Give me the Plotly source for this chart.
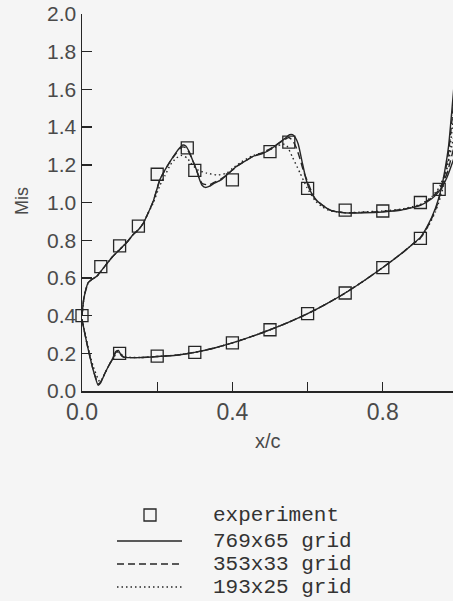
import plotly.graph_objects as go

# ---------------- data ----------------
# experiment, suction (upper) surface
exp_up_x = [0.0, 0.05, 0.10, 0.15, 0.20, 0.28, 0.30, 0.40, 0.50, 0.55, 0.60, 0.70, 0.80, 0.90, 0.95]
exp_up_y = [0.40, 0.66, 0.77, 0.875, 1.15, 1.29, 1.17, 1.12, 1.27, 1.32, 1.075, 0.96, 0.955, 1.00, 1.07]
# experiment, pressure (lower) surface
exp_lo_x = [0.10, 0.20, 0.30, 0.40, 0.50, 0.60, 0.70, 0.80, 0.90]
exp_lo_y = [0.20, 0.185, 0.205, 0.255, 0.325, 0.41, 0.52, 0.655, 0.81]

# 769x65 grid, upper surface
g769_up_x = [0.0, 0.004, 0.008, 0.016, 0.025, 0.04, 0.06, 0.08, 0.10, 0.12, 0.136, 0.15, 0.163,
             0.175, 0.19, 0.207, 0.22, 0.235, 0.25, 0.26, 0.268, 0.276, 0.285, 0.295, 0.305,
             0.313, 0.32, 0.328, 0.338, 0.35, 0.37, 0.39, 0.41, 0.43, 0.455, 0.48, 0.50, 0.52,
             0.54, 0.552, 0.56, 0.567, 0.575, 0.585, 0.595, 0.605, 0.62, 0.64, 0.66, 0.68, 0.70,
             0.75, 0.80, 0.85, 0.90, 0.93, 0.95, 0.97, 0.99]
g769_up_y = [0.40, 0.48, 0.52, 0.573, 0.59, 0.61, 0.66, 0.71, 0.75, 0.79, 0.83, 0.855, 0.89,
             0.94, 1.01, 1.12, 1.17, 1.22, 1.265, 1.29, 1.305, 1.30, 1.27, 1.22, 1.17,
             1.12, 1.09, 1.08, 1.085, 1.10, 1.12, 1.155, 1.19, 1.215, 1.245, 1.26, 1.28, 1.31,
             1.34, 1.36, 1.36, 1.345, 1.31, 1.22, 1.13, 1.07, 1.02, 0.985, 0.96, 0.95, 0.945,
             0.945, 0.95, 0.96, 0.985, 1.02, 1.06, 1.13, 1.24]
# 769x65 grid, lower surface
g769_lo_x = [0.0, 0.01, 0.02, 0.03, 0.043, 0.05, 0.06, 0.07, 0.08, 0.09, 0.097, 0.104, 0.11,
             0.13, 0.16, 0.20, 0.25, 0.30, 0.35, 0.40, 0.45, 0.50, 0.55, 0.60, 0.65, 0.70,
             0.75, 0.80, 0.85, 0.88, 0.90, 0.92, 0.94, 0.955, 0.965, 0.975, 0.985, 0.995]
g769_lo_y = [0.38, 0.28, 0.19, 0.11, 0.03, 0.045, 0.09, 0.13, 0.165, 0.21, 0.215, 0.19, 0.18,
             0.177, 0.178, 0.183, 0.19, 0.205, 0.227, 0.255, 0.288, 0.325, 0.365, 0.41, 0.462, 0.52,
             0.585, 0.655, 0.73, 0.78, 0.815, 0.88, 0.97, 1.07, 1.17, 1.30, 1.52, 1.75]

# 353x33 grid, upper surface
g353_up_x = [0.0, 0.004, 0.008, 0.016, 0.025, 0.04, 0.06, 0.08, 0.10, 0.12, 0.136, 0.15, 0.163,
             0.175, 0.19, 0.207, 0.22, 0.235, 0.25, 0.26, 0.268, 0.276, 0.285, 0.295, 0.305,
             0.313, 0.32, 0.33, 0.34, 0.35, 0.37, 0.39, 0.41, 0.43, 0.455, 0.48, 0.50, 0.52,
             0.54, 0.55, 0.56, 0.57, 0.58, 0.59, 0.598, 0.61, 0.62, 0.64, 0.66, 0.68, 0.70,
             0.75, 0.80, 0.85, 0.90, 0.93, 0.95, 0.97, 0.99]
g353_up_y = [0.40, 0.48, 0.52, 0.573, 0.59, 0.61, 0.66, 0.71, 0.75, 0.79, 0.83, 0.855, 0.89,
             0.94, 1.01, 1.12, 1.17, 1.22, 1.26, 1.285, 1.295, 1.29, 1.265, 1.22, 1.17,
             1.125, 1.10, 1.095, 1.095, 1.105, 1.125, 1.155, 1.19, 1.215, 1.245, 1.265, 1.285, 1.31,
             1.335, 1.345, 1.33, 1.29, 1.23, 1.16, 1.12, 1.06, 1.02, 0.985, 0.96, 0.95, 0.945,
             0.948, 0.952, 0.962, 0.987, 1.025, 1.07, 1.15, 1.30]
# 353x33 grid, lower surface
g353_lo_x = [0.0, 0.01, 0.02, 0.03, 0.044, 0.05, 0.06, 0.07, 0.08, 0.09, 0.098, 0.105, 0.112,
             0.13, 0.16, 0.20, 0.25, 0.30, 0.35, 0.40, 0.45, 0.50, 0.55, 0.60, 0.65, 0.70,
             0.75, 0.80, 0.85, 0.88, 0.90, 0.92, 0.94, 0.955, 0.965, 0.975, 0.985, 0.995]
g353_lo_y = [0.38, 0.28, 0.19, 0.11, 0.035, 0.05, 0.09, 0.13, 0.165, 0.205, 0.21, 0.19, 0.18,
             0.177, 0.178, 0.183, 0.19, 0.205, 0.227, 0.255, 0.288, 0.325, 0.365, 0.41, 0.462, 0.52,
             0.585, 0.655, 0.73, 0.78, 0.812, 0.875, 0.96, 1.06, 1.15, 1.27, 1.46, 1.70]

# 193x25 grid, upper surface
g193_up_x = [0.0, 0.004, 0.008, 0.016, 0.025, 0.04, 0.06, 0.08, 0.10, 0.12, 0.136, 0.15, 0.163,
             0.175, 0.19, 0.207, 0.22, 0.235, 0.25, 0.266, 0.28, 0.293, 0.31, 0.332, 0.36,
             0.385, 0.40, 0.42, 0.45, 0.48, 0.50, 0.52, 0.535, 0.545, 0.56, 0.58, 0.598, 0.62,
             0.64, 0.66, 0.68, 0.70, 0.75, 0.80, 0.85, 0.90, 0.93, 0.95, 0.97, 0.99]
g193_up_y = [0.40, 0.47, 0.52, 0.57, 0.59, 0.61, 0.66, 0.71, 0.75, 0.79, 0.83, 0.855, 0.89,
             0.94, 1.00, 1.09, 1.14, 1.20, 1.235, 1.25, 1.235, 1.20, 1.17, 1.156, 1.146,
             1.156, 1.18, 1.21, 1.245, 1.265, 1.28, 1.30, 1.31, 1.30, 1.24, 1.156, 1.08, 1.01,
             0.975, 0.955, 0.95, 0.945, 0.95, 0.955, 0.965, 0.99, 1.03, 1.08, 1.18, 1.36]
# 193x25 grid, lower surface
g193_lo_x = [0.0, 0.01, 0.02, 0.03, 0.047, 0.055, 0.065, 0.075, 0.085, 0.095, 0.102, 0.11,
             0.13, 0.16, 0.20, 0.25, 0.30, 0.35, 0.40, 0.45, 0.50, 0.55, 0.60, 0.65, 0.70,
             0.75, 0.80, 0.85, 0.88, 0.90, 0.92, 0.94, 0.955, 0.965, 0.975, 0.985, 0.995]
g193_lo_y = [0.38, 0.29, 0.20, 0.13, 0.05, 0.07, 0.11, 0.15, 0.18, 0.205, 0.20, 0.185,
             0.178, 0.178, 0.183, 0.19, 0.205, 0.227, 0.255, 0.288, 0.325, 0.365, 0.41, 0.462, 0.52,
             0.585, 0.655, 0.73, 0.78, 0.81, 0.87, 0.95, 1.04, 1.12, 1.23, 1.40, 1.62]

# axis ticks
y_ticks = [0.0, 0.2, 0.4, 0.6, 0.8, 1.0, 1.2, 1.4, 1.6, 1.8, 2.0]
y_tick_text = ["0.0", "0.2", "0.4", "0.6", "0.8", "1.0", "1.2", "1.4", "1.6", "1.8", "2.0"]
x_ticks = [0.0, 0.2, 0.4, 0.6, 0.8]
x_tick_text = ["0.0", "", "0.4", "", "0.8"]

legend_labels = ["experiment", "769x65 grid", "353x33 grid", "193x25 grid"]

# ---------------- styling ----------------
INK = "#262626"
TXT = "#4a4a4a"
BG = "#f5f5f5"
DASH = "7px,4px"
DOT = "1.5px,3px"

FIG_W, FIG_H = 453, 601
# plot-area geometry in pixels
L, R, T, B = 82, 453, 14, 391
W, H = R - L, B - T

fig = go.Figure()

def add_line(x, y, dash, name):
    fig.add_trace(go.Scatter(x=x, y=y, mode="lines", name=name,
                             line=dict(color=INK, width=1.4, dash=dash, shape="spline", smoothing=0.5),
                             hoverinfo="skip", showlegend=False))

add_line(g193_up_x, g193_up_y, DOT, legend_labels[3])
add_line(g193_lo_x, g193_lo_y, DOT, legend_labels[3])
add_line(g353_up_x, g353_up_y, DASH, legend_labels[2])
add_line(g353_lo_x, g353_lo_y, DASH, legend_labels[2])
add_line(g769_up_x, g769_up_y, "solid", legend_labels[1])
add_line(g769_lo_x, g769_lo_y, "solid", legend_labels[1])

for ex, ey in ((exp_up_x, exp_up_y), (exp_lo_x, exp_lo_y)):
    fig.add_trace(go.Scatter(x=ex, y=ey, mode="markers", name=legend_labels[0],
                             marker=dict(symbol="square-open", size=12, color=INK,
                                         line=dict(width=1.3, color=INK)),
                             cliponaxis=False, showlegend=False))

def px(xp):
    return (xp - L) / W
def py(yp):
    return (B - yp) / H

rows = [515, 541, 564, 587]
dashes = [None, "solid", DASH, DOT]
for i, (lab, yy) in enumerate(zip(legend_labels, rows)):
    fig.add_annotation(x=px(211), y=py(yy), xref="paper", yref="paper", text=lab,
                       showarrow=False, xanchor="left", yanchor="middle",
                       font=dict(family="Liberation Mono, Courier New, monospace", size=21, color="#333"))
    if i == 0:
        fig.add_shape(type="rect", xref="paper", yref="paper",
                      x0=px(144), x1=px(156), y0=py(yy + 6), y1=py(yy - 6),
                      line=dict(color=INK, width=1.3))
    else:
        fig.add_shape(type="line", xref="paper", yref="paper",
                      x0=px(117), x1=px(182), y0=py(yy), y1=py(yy),
                      line=dict(color=INK, width=1.4, dash=dashes[i]))

# axis titles
fig.add_annotation(x=px(268), y=py(441), xref="paper", yref="paper", text="x/c",
                   showarrow=False, xanchor="center", yanchor="middle",
                   font=dict(family="Liberation Sans, Arial, sans-serif", size=20, color=TXT))
fig.add_annotation(x=px(22), y=py(201), xref="paper", yref="paper", text="Mis",
                   showarrow=False, xanchor="center", yanchor="middle", textangle=-90,
                   font=dict(family="Liberation Sans, Arial, sans-serif", size=18, color=TXT))

fig.update_layout(
    width=FIG_W, height=FIG_H,
    margin=dict(l=L, r=FIG_W - R, t=T, b=FIG_H - B),
    paper_bgcolor=BG, plot_bgcolor=BG,
    showlegend=False,
    xaxis=dict(range=[0, (R - L) / 376.0], tickvals=x_ticks, ticktext=x_tick_text,
               ticks="inside", ticklen=9, tickwidth=1.4, tickcolor=INK,
               showline=True, linecolor=INK, linewidth=1.5, showgrid=False, zeroline=False,
               tickfont=dict(family="Liberation Sans, Arial, sans-serif", size=23, color=TXT)),
    yaxis=dict(range=[0, 2.0], tickvals=y_ticks, ticktext=y_tick_text,
               ticks="inside", ticklen=10, tickwidth=1.4, tickcolor=INK,
               showline=True, linecolor=INK, linewidth=1.5, showgrid=False, zeroline=False,
               ticklabeloverflow="allow",
               tickfont=dict(family="Liberation Sans, Arial, sans-serif", size=21, color=TXT)),
)

# remove the default 8px page margin so the figure fills the 453x601 window exactly
fig.write_html("out.html",
               config={"displayModeBar": False, "staticPlot": True},
               post_script="document.body.style.margin='0px';document.body.style.overflow='hidden';")
